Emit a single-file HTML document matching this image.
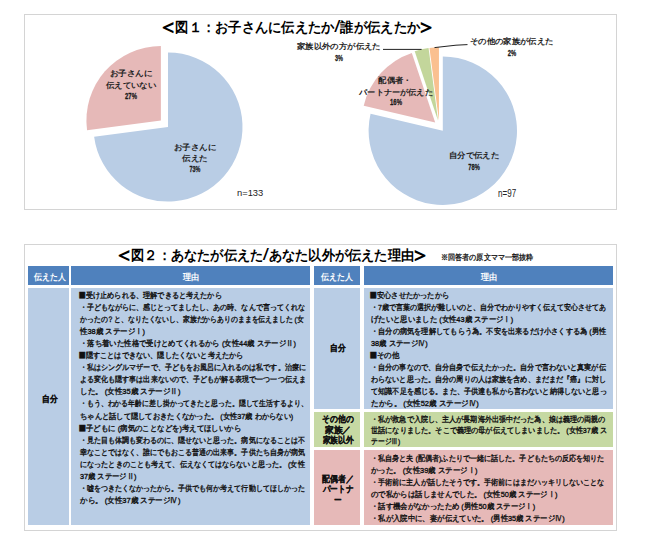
<!DOCTYPE html>
<html lang="ja"><head><meta charset="utf-8"><title>figure</title><style>
html,body{margin:0;padding:0;background:#fff}
body{width:645px;height:542px;position:relative;overflow:hidden;font-family:"Liberation Sans",sans-serif;color:#111}
.box{position:absolute;border:1px solid #d4d4d4;box-sizing:border-box;background:#fff}
.pies{position:absolute;left:0;top:0}
.cell{position:absolute}
.ln{position:absolute;white-space:nowrap;transform-origin:0 50%;margin:0;padding:0}
.ln.c{transform-origin:50% 50%}
.t{font-size:8px;line-height:12px;color:#111;-webkit-text-stroke:0.35px #111}
.sq{display:inline-block;transform:scale(1.6);transform-origin:50% 52%;margin:0 1.3px 0 0.4px}
.ttl{font-size:13.8px;line-height:20px;font-weight:bold;color:#000}
.ab{display:inline-block;transform:scale(1.55,1.6);transform-origin:50% 56%}
.sl{display:inline-block;font-weight:normal;transform:scale(1.7,1.2);transform-origin:50% 60%;margin:0 1.2px}
.sub{font-size:7.8px;line-height:12px;color:#111;-webkit-text-stroke:0.3px #111}
.lab{font-size:8px;line-height:12px;font-weight:bold;color:#222}
.labn{font-size:9.5px;line-height:12px;color:#1a1a1a;font-weight:bold;-webkit-text-stroke:0.3px #1a1a1a}
.nn{font-size:9.5px;line-height:14px;color:#222}
.nn2{font-size:10px;line-height:14px;color:#222}
.hd{font-size:8.5px;line-height:12px;font-weight:bold;color:#fff}
.rl{font-size:8.5px;line-height:12px;color:#111;font-weight:bold;-webkit-text-stroke:0.2px #111}
</style></head>
<body>
<div class="box" style="left:24px;top:14px;width:593px;height:196px"></div>
<div class="box" style="left:24px;top:244px;width:593px;height:287px"></div>
<svg class="pies" width="645" height="542" viewBox="0 0 645 542"><path d="M168.00,127.10 L168.00,52.60 A74.50,74.50 0 1 1 94.13,136.75 Z" fill="#b9cde5"/><path d="M160.90,120.50 L87.03,130.15 A74.50,74.50 0 0 1 160.90,46.00 Z" fill="#e6b9b8"/><path d="M442.80,130.70 L442.80,56.50 A74.20,74.20 0 1 1 370.56,113.76 Z" fill="#b9cde5"/><path d="M435.18,122.54 L363.72,105.78 A73.40,73.40 0 0 1 411.82,52.96 Z" fill="#e6b9b8"/><path d="M438.06,120.85 L414.70,51.27 A73.40,73.40 0 0 1 428.58,48.07 Z" fill="#c3d69b"/><path d="M438.96,120.72 L429.48,47.94 A73.40,73.40 0 0 1 438.96,47.32 Z" fill="#fac090"/><path d="M383,49.4 L421.6,49.4" stroke="#222" stroke-width="1" fill="none"/><path d="M434.5,47.6 L456,45.2 L467.5,44.6" stroke="#222" stroke-width="1" fill="none"/></svg>
<div class="cell" style="left:28.0px;top:266.3px;width:40.6px;height:18.3px;background:#4f81bd"></div><div class="cell" style="left:71.4px;top:266.3px;width:239.1px;height:18.3px;background:#4f81bd"></div><div class="cell" style="left:314.0px;top:266.3px;width:46.2px;height:18.3px;background:#4f81bd"></div><div class="cell" style="left:363.7px;top:266.3px;width:249.7px;height:18.3px;background:#4f81bd"></div><div class="cell" style="left:28.0px;top:287.6px;width:40.6px;height:237.8px;background:#b9cde5"></div><div class="cell" style="left:71.4px;top:287.6px;width:239.1px;height:237.8px;background:#b9cde5"></div><div class="cell" style="left:314.0px;top:287.6px;width:46.2px;height:121.7px;background:#b9cde5"></div><div class="cell" style="left:363.7px;top:287.6px;width:249.7px;height:121.7px;background:#b9cde5"></div><div class="cell" style="left:314.0px;top:412.2px;width:46.2px;height:34.8px;background:#c6d9a3"></div><div class="cell" style="left:363.7px;top:412.2px;width:249.7px;height:34.8px;background:#c6d9a3"></div><div class="cell" style="left:314.0px;top:450.3px;width:46.2px;height:75.1px;background:#e6b9b8"></div><div class="cell" style="left:363.7px;top:450.3px;width:249.7px;height:75.1px;background:#e6b9b8"></div>
<div class="ln ttl " id="t1" style="top:17.60px;left:162.40px;transform:scaleX(0.9482);"><span class="ab">＜</span>図１：お子さんに伝えたか<span class="sl">/</span>誰が伝えたか<span class="ab">＞</span></div>
<div class="ln ttl " id="t2" style="top:245.60px;left:118.40px;transform:scaleX(0.9420);"><span class="ab">＜</span>図２：あなたが伝えた<span class="sl">/</span>あなた以外が伝えた理由<span class="ab">＞</span></div>
<div class="ln sub " id="sub" style="top:251.90px;left:441.10px;transform:scaleX(0.8874);">※回答者の原文ママ一部抜粋</div>
<div class="ln lab c" id="p1a" style="top:68.30px;left:130.70px;transform:translateX(-50%) scaleX(1.0726);">お子さんに</div>
<div class="ln lab c" id="p1b" style="top:80.10px;left:130.90px;transform:translateX(-50%) scaleX(1.0500);">伝えていない</div>
<div class="ln labn c" id="p1c" style="top:90.00px;left:131.10px;transform:translateX(-50%) scaleX(0.6223);">27%</div>
<div class="ln lab c" id="p1d" style="top:142.40px;left:195.00px;transform:translateX(-50%) scaleX(1.0539);">お子さんに</div>
<div class="ln lab c" id="p1e" style="top:153.20px;left:194.80px;transform:translateX(-50%) scaleX(1.0597);">伝えた</div>
<div class="ln labn c" id="p1f" style="top:163.40px;left:194.70px;transform:translateX(-50%) scaleX(0.5703);">73%</div>
<div class="ln nn " id="n1" style="top:186.30px;left:236.90px;transform:scaleX(0.9849);">n=133</div>
<div class="ln nn2 " id="n2" style="top:187.00px;left:497.90px;transform:scaleX(0.8033);">n=97</div>
<div class="ln lab " id="p2a" style="top:41.10px;left:297.00px;transform:scaleX(1.0457);">家族以外の方が伝えた</div>
<div class="ln labn c" id="p2b" style="top:51.90px;left:339.00px;transform:translateX(-50%) scaleX(0.5825);">3%</div>
<div class="ln lab " id="p2c" style="top:36.10px;left:470.30px;transform:scaleX(1.0412);">その他の家族が伝えた</div>
<div class="ln labn c" id="p2d" style="top:47.20px;left:512.20px;transform:translateX(-50%) scaleX(0.6122);">2%</div>
<div class="ln lab c" id="p2e" style="top:74.90px;left:395.30px;transform:translateX(-50%) scaleX(1.0361);">配偶者・</div>
<div class="ln lab c" id="p2f" style="top:86.60px;left:395.70px;transform:translateX(-50%) scaleX(1.0195);">パートナーが伝えた</div>
<div class="ln labn c" id="p2g" style="top:95.90px;left:395.90px;transform:translateX(-50%) scaleX(0.6269);">16%</div>
<div class="ln lab c" id="p2h" style="top:150.30px;left:474.20px;transform:translateX(-50%) scaleX(1.0484);">自分で伝えた</div>
<div class="ln labn c" id="p2i" style="top:161.10px;left:474.20px;transform:translateX(-50%) scaleX(0.6011);">78%</div>
<div class="ln hd c" id="h1" style="top:270.50px;left:50.40px;transform:translateX(-50%) scaleX(0.8778);">伝えた人</div>
<div class="ln hd c" id="h2" style="top:270.50px;left:191.00px;transform:translateX(-50%) scaleX(0.8944);">理由</div>
<div class="ln hd c" id="h3" style="top:270.50px;left:337.00px;transform:translateX(-50%) scaleX(0.8778);">伝えた人</div>
<div class="ln hd c" id="h4" style="top:270.50px;left:488.80px;transform:translateX(-50%) scaleX(0.8944);">理由</div>
<div class="ln rl c" id="r1" style="top:392.50px;left:49.50px;transform:translateX(-50%) scaleX(0.8611);">自分</div>
<div class="ln rl c" id="r2" style="top:342.10px;left:338.00px;transform:translateX(-50%) scaleX(0.8611);">自分</div>
<div class="ln rl c" id="r3a" style="top:412.90px;left:337.80px;transform:translateX(-50%) scaleX(0.8694);">その他の</div>
<div class="ln rl c" id="r3b" style="top:423.50px;left:337.80px;transform:translateX(-50%) scaleX(0.9741);">家族／</div>
<div class="ln rl c" id="r3c" style="top:434.40px;left:337.80px;transform:translateX(-50%) scaleX(0.8611);">家族以外</div>
<div class="ln rl c" id="r4a" style="top:472.60px;left:337.50px;transform:translateX(-50%) scaleX(0.8750);">配偶者／</div>
<div class="ln rl c" id="r4b" style="top:483.20px;left:337.50px;transform:translateX(-50%) scaleX(0.8444);">パートナ</div>
<div class="ln rl c" id="r4c" style="top:493.80px;left:337.50px;transform:translateX(-50%) scaleX(0.8444);">ー</div>
<div class="ln t " id="l0" style="top:290.10px;left:79.50px;transform:scaleX(0.8939);"><span class="sq">■</span>受け止められる、理解できると考えたから</div>
<div class="ln t " id="l1" style="top:302.14px;left:79.50px;transform:scaleX(0.8777);">・子どもながらに、感じとってましたし、あの時、なんで言ってくれな</div>
<div class="ln t " id="l2" style="top:314.18px;left:79.50px;transform:scaleX(0.8575);">かったの？と、なりたくないし、家族だからありのままを伝えました (女</div>
<div class="ln t " id="l3" style="top:326.22px;left:79.50px;transform:scaleX(0.9299);">性38歳 ステージⅠ)</div>
<div class="ln t " id="l4" style="top:338.26px;left:79.50px;transform:scaleX(0.9200);">・落ち着いた性格で受けとめてくれるから (女性44歳 ステージⅡ)</div>
<div class="ln t " id="l5" style="top:350.30px;left:79.50px;transform:scaleX(0.8947);"><span class="sq">■</span>隠すことはできない、隠したくないと考えたから</div>
<div class="ln t " id="l6" style="top:362.34px;left:79.50px;transform:scaleX(0.8817);">・私はシングルマザーで、子どもをお風呂に入れるのは私です。治療に</div>
<div class="ln t " id="l7" style="top:374.38px;left:79.50px;transform:scaleX(0.8817);">よる変化も隠す事は出来ないので、子どもが解る表現で一つ一つ伝えま</div>
<div class="ln t " id="l8" style="top:386.42px;left:79.50px;transform:scaleX(0.9421);">した。 (女性35歳 ステージⅡ)</div>
<div class="ln t " id="l9" style="top:398.46px;left:79.50px;transform:scaleX(0.8620);">・もう、わかる年齢に差し掛かってきたと思った。隠して生活するより、</div>
<div class="ln t " id="l10" style="top:410.50px;left:79.50px;transform:scaleX(0.9089);">ちゃんと話して隠しておきたくなかった。 (女性37歳 わからない)</div>
<div class="ln t " id="l11" style="top:422.54px;left:79.50px;transform:scaleX(0.9254);"><span class="sq">■</span>子どもに (病気のことなどを)考えてほしいから</div>
<div class="ln t " id="l12" style="top:434.58px;left:79.50px;transform:scaleX(0.8777);">・見た目も体調も変わるのに、隠せないと思った。病気になることは不</div>
<div class="ln t " id="l13" style="top:446.62px;left:79.50px;transform:scaleX(0.8777);">幸なことではなく、誰にでもおこる普通の出来事。子供たち自身が病気</div>
<div class="ln t " id="l14" style="top:458.66px;left:79.50px;transform:scaleX(0.8885);">になったときのことも考えて、伝えなくてはならないと思った。 (女性</div>
<div class="ln t " id="l15" style="top:470.70px;left:79.50px;transform:scaleX(0.9144);">37歳 ステージⅡ)</div>
<div class="ln t " id="l16" style="top:482.74px;left:79.50px;transform:scaleX(0.8777);">・嘘をつきたくなかったから。子供でも何か考えて行動してほしかった</div>
<div class="ln t " id="l17" style="top:494.78px;left:79.50px;transform:scaleX(0.9421);">から。 (女性37歳 ステージⅣ)</div>
<div class="ln t " id="q0" style="top:290.10px;left:370.50px;transform:scaleX(0.9027);"><span class="sq">■</span>安心させたかったから</div>
<div class="ln t " id="q1" style="top:302.12px;left:370.50px;transform:scaleX(0.8765);">・7歳で言葉の選択が難しいのと、自分でわかりやすく伝えて安心させてあ</div>
<div class="ln t " id="q2" style="top:314.14px;left:370.50px;transform:scaleX(0.9188);">げたいと思いました (女性43歳 ステージⅠ)</div>
<div class="ln t " id="q3" style="top:326.16px;left:370.50px;transform:scaleX(0.9011);">・自分の病気を理解してもらう為。不安を出来るだけ小さくする為 (男性</div>
<div class="ln t " id="q4" style="top:338.18px;left:370.50px;transform:scaleX(0.9176);">38歳 ステージⅣ)</div>
<div class="ln t " id="q5" style="top:350.20px;left:370.50px;transform:scaleX(0.9286);"><span class="sq">■</span>その他</div>
<div class="ln t " id="q6" style="top:362.22px;left:370.50px;transform:scaleX(0.8890);">・自分の事なので、自分自身で伝えたかった。自分で言わないと真実が伝</div>
<div class="ln t " id="q7" style="top:374.24px;left:370.50px;transform:scaleX(0.8898);">わらないと思った。自分の周りの人は家族を含め、まだまだ『癌』に対し</div>
<div class="ln t " id="q8" style="top:386.26px;left:370.50px;transform:scaleX(0.8928);">て知識不足を感じる。また、子供達も私から言わないと納得しないと思っ</div>
<div class="ln t " id="q9" style="top:398.28px;left:370.50px;transform:scaleX(0.9392);">たから。 (女性52歳 ステージⅣ)</div>
<div class="ln t " id="q10" style="top:414.20px;left:370.50px;transform:scaleX(0.8883);">・私が救急で入院し、主人が長期海外出張中だった為、娘は義理の両親の</div>
<div class="ln t " id="q11" style="top:425.00px;left:370.50px;transform:scaleX(0.8943);">世話になりました。そこで義理の母が伝えてしまいました。 (女性37歳 ス</div>
<div class="ln t " id="q12" style="top:435.80px;left:370.50px;transform:scaleX(0.8456);">テージⅢ)</div>
<div class="ln t " id="q13" style="top:452.80px;left:370.50px;transform:scaleX(0.8859);">・私自身と夫 (配偶者)ふたりで一緒に話した。子どもたちの反応を知りた</div>
<div class="ln t " id="q14" style="top:464.80px;left:370.50px;transform:scaleX(0.9287);">かった。 (女性39歳 ステージⅠ)</div>
<div class="ln t " id="q15" style="top:477.20px;left:370.50px;transform:scaleX(0.8845);">・手術前に主人が話したそうです。手術前にはまだハッキリしないことな</div>
<div class="ln t " id="q16" style="top:489.10px;left:370.50px;transform:scaleX(0.9202);">ので私からは話しませんでした。 (女性50歳 ステージⅠ)</div>
<div class="ln t " id="q17" style="top:501.00px;left:370.50px;transform:scaleX(0.9196);">・話す機会がなかったため (男性50歳 ステージⅠ)</div>
<div class="ln t " id="q18" style="top:512.80px;left:370.50px;transform:scaleX(0.9194);">・私が入院中に、妻が伝えていた。 (男性35歳 ステージⅣ)</div>
</body></html>
